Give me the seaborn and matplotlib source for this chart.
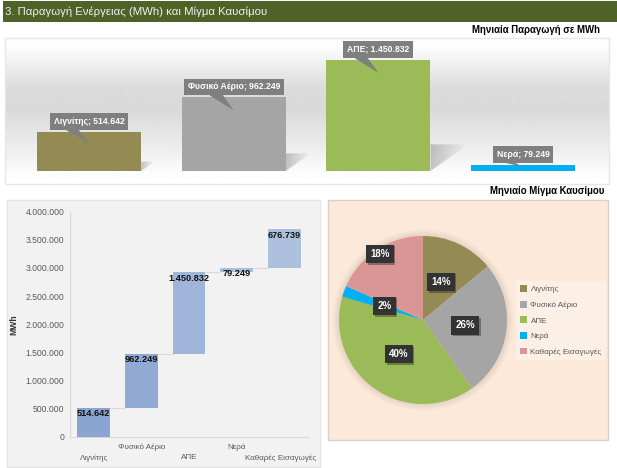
import numpy as np
import pandas as pd
import matplotlib
matplotlib.use('Agg')
import matplotlib.pyplot as plt
from matplotlib.patches import Rectangle, Polygon, Circle
from matplotlib.transforms import ScaledTranslation
import matplotlib.patheffects as pe
import seaborn as sns

###############################################################################
# Data
###############################################################################
categories = ['Λιγνίτης', 'Φυσικό Αέριο', 'ΑΠΕ', 'Νερά', 'Καθαρές Εισαγωγές']
values_mwh = [514642, 962249, 1450832, 79249, 676739]
value_labels = ['514.642', '962.249', '1.450.832', '79.249', '676.739']
pct_labels = ['14%', '26%', '40%', '2%', '18%']
colors = ['#948a54', '#a5a5a5', '#9bbb59', '#00b0f0', '#d99694']
waterfall_colors = ['#8aa5d2', '#90aad4', '#9fb5d9', '#a9bddd', '#adc1df']
y_ticks = [0, 500000, 1000000, 1500000, 2000000, 2500000, 3000000, 3500000, 4000000]
y_tick_labels = ['0', '500.000', '1.000.000', '1.500.000', '2.000.000',
                 '2.500.000', '3.000.000', '3.500.000', '4.000.000']

###############################################################################
# Setup
###############################################################################
W, H = 617, 468
sns.set_theme(style='white')
plt.rcParams['font.family'] = ['Liberation Sans', 'DejaVu Sans']

fig = plt.figure(figsize=(W / 100, H / 100), dpi=100, facecolor='white')


def px_axes(x0, y0, x1, y1):
    # Axes from pixel box, origin top left
    return fig.add_axes([x0 / W, 1 - y1 / H, (x1 - x0) / W, (y1 - y0) / H])


def px_rect(x0, y0, x1, y1, zorder=-1, **kw):
    fig.patches.append(Rectangle((x0 / W, 1 - y1 / H), (x1 - x0) / W, (y1 - y0) / H,
                                 transform=fig.transFigure, zorder=zorder, **kw))


# Banner and headings
px_rect(3, 1, 617, 22, facecolor='#4f6228', edgecolor='none')
fig.text(5 / W, 1 - 11.5 / H, '3. Παραγωγή Ενέργειας (MWh) και Μίγμα Καυσίμου',
         color='#f2f2f2', fontsize=8.2, va='center')
fig.text(600 / W, 1 - 30 / H, 'Μηνιαία Παραγωγή σε MWh', color='black', fontsize=6.9,
         fontweight='bold', ha='right', va='center')
fig.text(604 / W, 1 - 191 / H, 'Μηνιαίο Μίγμα Καυσίμου', color='black', fontsize=6.9,
         fontweight='bold', ha='right', va='center')

###############################################################################
# Top bars
###############################################################################
ax = px_axes(5, 38, 609, 184)
top_cats = categories[:4]
top_vals = values_mwh[:4]
sns.barplot(x=top_cats, y=top_vals, hue=top_cats, palette=colors[:4], width=0.72,
            legend=False, saturation=1, linewidth=0, ax=ax, zorder=3)

x_px = 144.7
y_px = 1450832 / 111
xlim = ((5 - 89) / x_px, (609 - 89) / x_px)
ylim = (-13 * y_px, 133 * y_px)

# Background gradient, white to grey and back
stops_y = [0, 10, 50, 70, 110, 135, 146]
stops_v = [1.0, 0.99, 0.86, 0.85, 0.93, 0.99, 1.0]
grad = np.interp(np.arange(146), stops_y, stops_v)[:, None]
ax.imshow(grad, cmap='gray', vmin=0, vmax=1, aspect='auto', zorder=0,
          extent=(xlim[0], xlim[1], ylim[0], ylim[1]), origin='upper')

# Shadows and callouts
for i, v in enumerate(top_vals):
    right = i + 0.36
    sh_w = v / y_px * 0.34 / x_px
    sh_h = v * 0.24
    if v > 100000:
        poly = Polygon([(right, 0), (right + sh_w, sh_h), (right, sh_h)], closed=True,
                       fc='none', ec='none', transform=ax.transData)
        ax.add_patch(poly)
        fade = np.linspace(0, 1, 40)[None, :]
        rgba = np.zeros((1, 40, 4))
        rgba[..., :3] = 0.5
        rgba[..., 3] = 0.45 * (1 - fade)
        im = ax.imshow(rgba, aspect='auto', zorder=1,
                       extent=(right, right + sh_w, 0, sh_h))
        im.set_clip_path(poly)
    tip = v - min(13 * y_px, 0.3 * v)
    base = v + 4 * y_px
    ax.add_patch(Polygon([(i - 27 / x_px, base), (i - 12 / x_px, base), (i, tip)],
                         closed=True, fc='#7f7f7f', ec='none', zorder=4))
    ax.text(i, v + 10.5 * y_px, f'{top_cats[i]}; {value_labels[i]}', color='white',
            fontsize=6.2, fontweight='bold', ha='center', va='center', zorder=5,
            bbox=dict(facecolor='#7f7f7f', edgecolor='none', pad=2.8))

ax.set_xlim(xlim)
ax.set_ylim(ylim)
ax.axis('off')
px_rect(5, 38, 609, 184, zorder=5, facecolor='none', edgecolor='#e6e6e6', linewidth=1)

###############################################################################
# Waterfall
###############################################################################
px_rect(7, 200, 320, 467, facecolor='#f2f2f2', edgecolor='#e4e4e4', linewidth=1)
ax2 = px_axes(70, 211.7, 308, 436.7)
ax2.patch.set_alpha(0)
cum = np.cumsum(values_mwh)
bottoms = cum - np.array(values_mwh)
df = pd.DataFrame({'cat': categories, 'mwh': values_mwh})
# No hue here: bottom has to go in as one array for all bars
sns.barplot(data=df, x='cat', y='mwh', width=0.69, bottom=bottoms, color=waterfall_colors[0],
            saturation=1, linewidth=0, errorbar=None, ax=ax2, zorder=3)
for bar, col in zip(ax2.patches, waterfall_colors):
    bar.set_facecolor(col)
ax2.hlines(cum[:-1], np.arange(4) + 0.345, np.arange(1, 5) - 0.345, color='#d9d9d9',
           linewidth=0.8, zorder=2)
for i, top in enumerate(cum):
    ax2.text(i, top - 110000, value_labels[i], color='#111111', fontsize=6.6,
             fontweight='bold', ha='center', va='center', zorder=5)

ax2.set_xlim(-0.5, 4.5)
ax2.set_ylim(0, 4000000)
ax2.set_yticks(y_ticks)
ax2.set_yticklabels(y_tick_labels)
ax2.set_xticks(range(5))
# Staggered category labels
ax2.set_xticklabels(['\n' + c if i % 2 == 0 else c + '\n' for i, c in enumerate(categories)],
                    linespacing=1.7)
ax2.tick_params(axis='y', labelsize=6.2, labelcolor='#595959', length=0, pad=4)
ax2.tick_params(axis='x', labelsize=5.8, labelcolor='#595959', length=0, pad=5)
last = ax2.get_xticklabels()[-1]
last.set_transform(last.get_transform() + ScaledTranslation(-4 / 100, 0, fig.dpi_scale_trans))
ax2.set_xlabel('')
ax2.set_ylabel('MWh', fontsize=6.2, fontweight='bold', color='#333333')
ax2.yaxis.set_label_coords(-0.218, 0.5)
sns.despine(ax=ax2)
for side in ['left', 'bottom']:
    ax2.spines[side].set_color('#d9d9d9')
    ax2.spines[side].set_linewidth(0.8)

###############################################################################
# Pie
###############################################################################
px_rect(328, 200, 608, 440, facecolor='#fce9da', edgecolor='#d9d0c8', linewidth=1)
cx, cy, r = 423, 320, 84
ax3 = px_axes(cx - 1.25 * r, cy - 1.25 * r, cx + 1.25 * r, cy + 1.25 * r)
ax3.patch.set_alpha(0)
for rr in np.linspace(1.08, 1.0, 8):
    ax3.add_patch(Circle((0, 0), rr, fc='#7f6a5a', ec='none', alpha=0.022, zorder=0))
wedges, _ = ax3.pie(values_mwh, colors=colors, startangle=90, counterclock=False,
                    radius=1, wedgeprops=dict(zorder=2, linewidth=0))
ax3.set_xlim(-1.25, 1.25)
ax3.set_ylim(-1.25, 1.25)

label_radius = [0.5, 0.51, 0.5, 0.49, 0.94]
for w, lab, rad in zip(wedges, pct_labels, label_radius):
    ang = np.deg2rad((w.theta1 + w.theta2) / 2)
    t = ax3.text(rad * np.cos(ang), rad * np.sin(ang), lab, color='white', fontsize=7,
                 fontweight='bold', ha='center', va='center', zorder=5,
                 bbox=dict(facecolor='#333333', edgecolor='none', pad=3))
    t.get_bbox_patch().set_path_effects([
        pe.SimplePatchShadow(offset=(1.2, -1.2), alpha=0.35), pe.Normal()])

leg = fig.legend(wedges, categories, loc='center left',
                 bbox_to_anchor=(516 / W, 1 - 320.5 / H), frameon=True, fontsize=5.8,
                 labelcolor='#595959', handlelength=0.9, handleheight=0.9,
                 handletextpad=0.4, labelspacing=0.92, borderpad=0.5, borderaxespad=0)
leg.get_frame().set_facecolor('#fdf1e8')
leg.get_frame().set_edgecolor('none')
leg.get_frame().set_alpha(0.8)

fig.savefig('out.png', dpi=100)
plt.close(fig)
